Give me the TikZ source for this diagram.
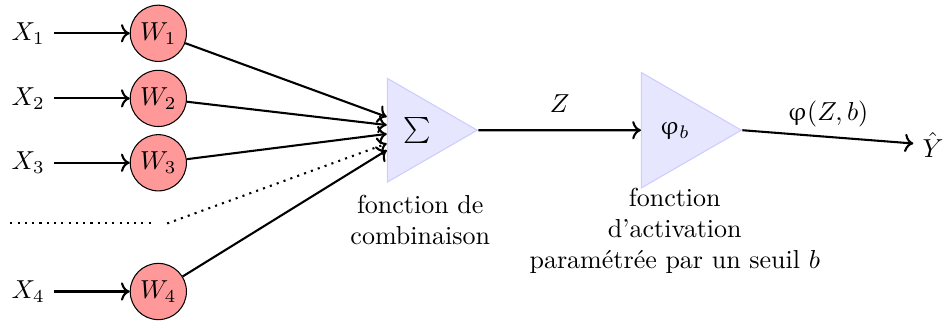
\documentclass[tikz,border=0pt]{standalone}
\usepackage{fontspec}
\usepackage{upgreek}
\usepackage{xcolor}
\usepackage{tikz}
\usetikzlibrary{arrows.meta, positioning, shapes.geometric, calc}
\definecolor{weightred}{RGB}{255, 153, 153}
\definecolor{blockfill}{RGB}{230, 230, 255}
\definecolor{blockedge}{RGB}{204, 204, 255}

\begin{document}
\begin{tikzpicture}[
    weight/.style={circle, draw, fill=weightred, minimum size=0.76cm, inner sep=0pt},
    block/.style={regular polygon, regular polygon sides=3, shape border rotate=-90,
                  draw=blockedge, fill=blockfill, inner sep=0pt},
    link/.style={->, thick}]
  \useasboundingbox (0,0) rectangle (12.8,4.35);

  \node (x1) at (0.38,3.90) {$X_1$};
  \node (x2) at (0.38,3.02) {$X_2$};
  \node (x3) at (0.38,2.15) {$X_3$};
  \node (x4) at (0.38,0.41) {$X_4$};

  \node[weight] (w1) at (2.14,3.90) {$W_1$};
  \node[weight] (w2) at (2.14,3.02) {$W_2$};
  \node[weight] (w3) at (2.14,2.15) {$W_3$};
  \node[weight] (w4) at (2.14,0.41) {$W_4$};

  \draw[link] (x1) -- (w1);
  \draw[link] (x2) -- (w2);
  \draw[link] (x3) -- (w3);
  \draw[link] (x4) -- (w4);

  \node[block, minimum size=1.62cm] (sigma) at (5.64,2.59) {$\sum$};
  \node[block, minimum size=1.80cm] (phi) at (9.12,2.59) {$\upvarphi_b$};
  \node (yhat) at (12.61,2.39) {$\hat{Y}$};

  \draw[link] (w1) -- ([yshift=0.18cm]sigma.west);
  \draw[link] (w2) -- ([yshift=0.07cm]sigma.west);
  \draw[link] (w3) -- ([yshift=-0.05cm]sigma.west);
  \draw[link] (w4) -- ([yshift=-0.27cm]sigma.west);

  % the elided inputs
  \coordinate (dotsA) at (0.14,1.33);
  \coordinate (dotsB) at (2.05,1.33);
  \coordinate (dotsC) at (2.26,1.33);
  \draw[thick, dotted] (dotsA) -- (dotsB);
  \draw[link, dotted] (dotsC) -- ([yshift=-0.18cm]sigma.west);

  \draw[link] (sigma.east) -- node[above=3pt] (zlab) {$Z$} (phi.west);
  \draw[link] (phi.east) -- node[above] (philab) {$\upvarphi(Z,b)$} (yhat);

  \node[align=center] (sigmatext) at (5.68,1.38) {fonction de\\combinaison};
  \node[align=center] (phitext) at (9.12,1.23) {fonction\\d'activation\\paramétrée par un seuil $b$};
\end{tikzpicture}
\end{document}
